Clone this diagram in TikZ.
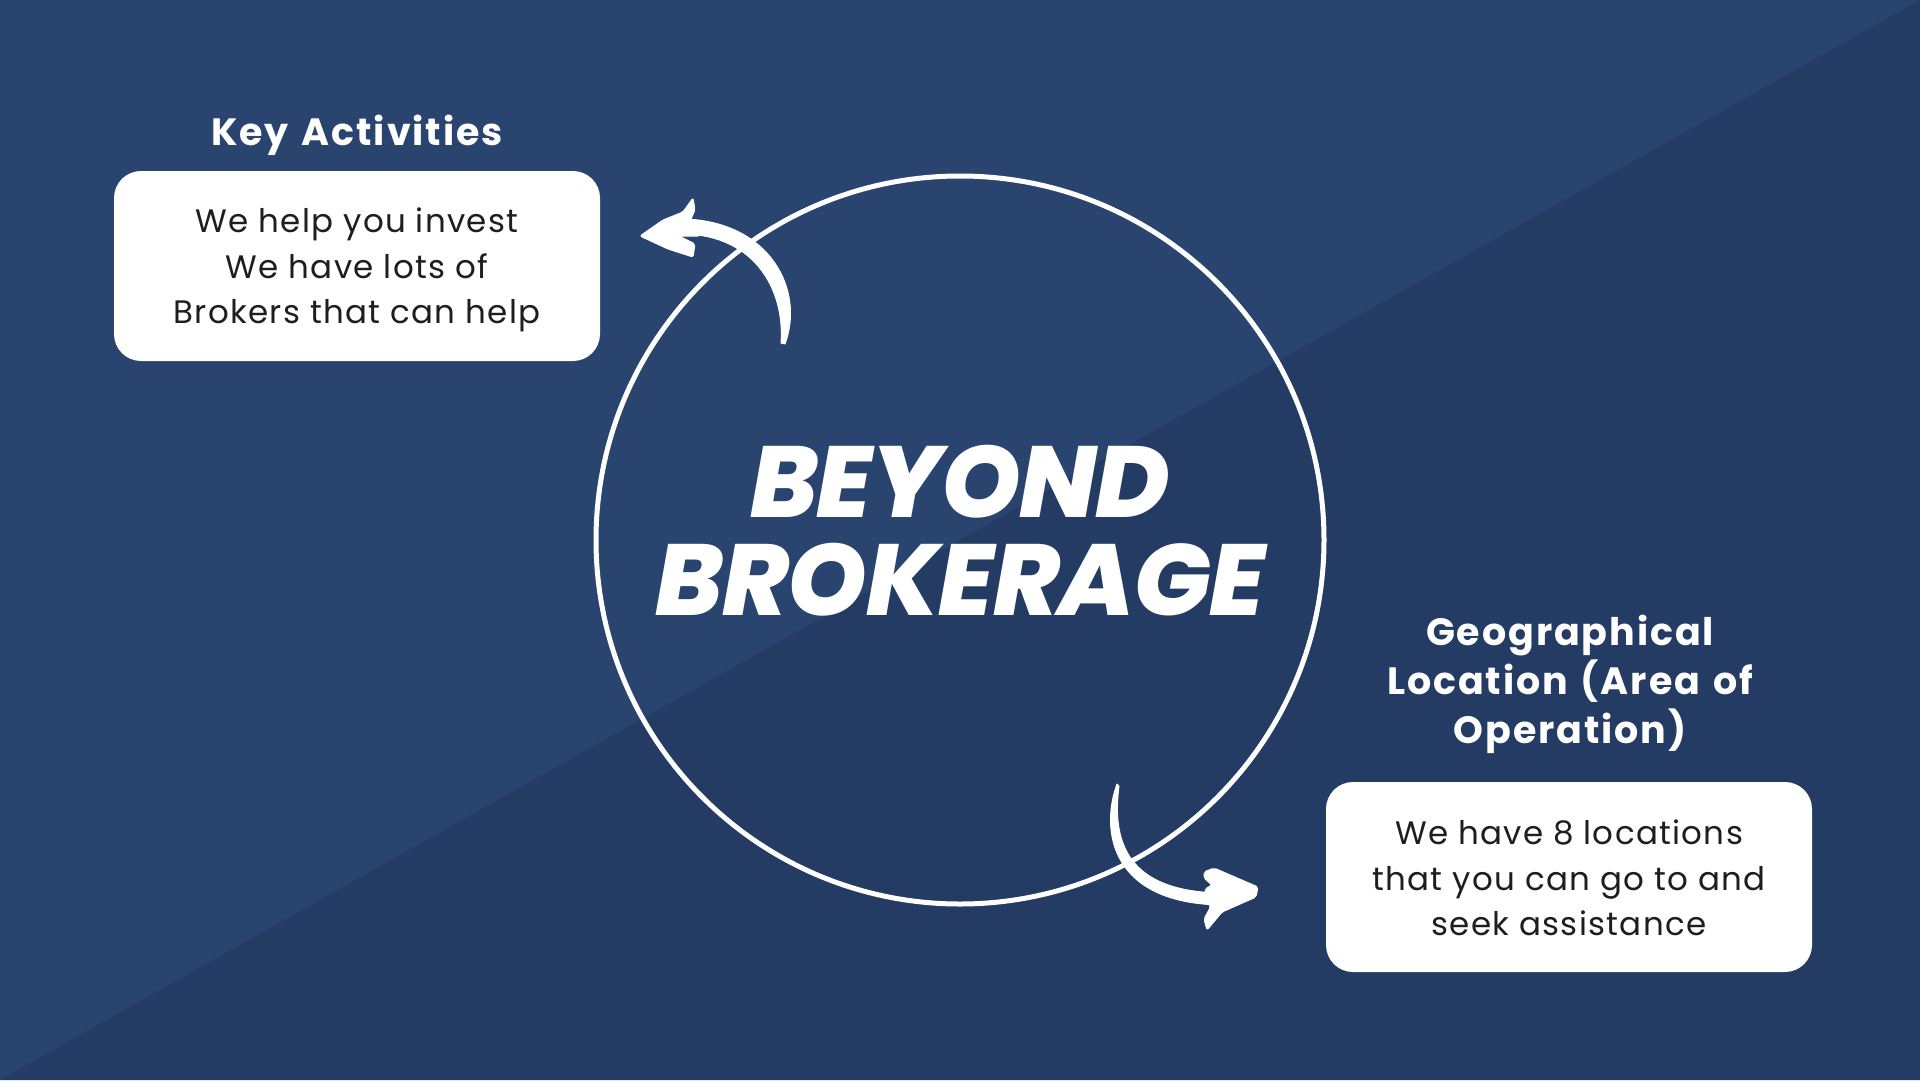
\documentclass[tikz,border=0pt]{standalone}
\usepackage{fontspec}
\newfontfamily\bodyfont[LetterSpace=4]{Poppins}
\IfFontExistsTF{Poppins ExtraBold Italic}
  {\newfontfamily\heavyfontbase[LetterSpace=-1]{Poppins ExtraBold Italic}\newcommand\heavyfont{\heavyfontbase}}
  {\newfontfamily\heavyfontbase[BoldItalicFeatures={FakeBold=2}]{Poppins}\newcommand\heavyfont{\heavyfontbase\bfseries\itshape}}
\IfFontExistsTF{Poppins Bold}
  {\newfontfamily\titlefontbase[LetterSpace=5,WordSpace=1.3]{Poppins Bold}\newcommand\titlefont{\titlefontbase}}
  {\newfontfamily\titlefontbase[LetterSpace=5,WordSpace=1.3]{Poppins}\newcommand\titlefont{\titlefontbase\bfseries}}
\definecolor{bgA}{HTML}{2A4470}
\definecolor{bgB}{HTML}{243B64}
\definecolor{ink}{HTML}{1E1E1E}
\tikzset{
  box/.style={fill=white, rounded corners=27pt, minimum width=486pt, minimum height=190pt, inner sep=0pt},
  boxtext/.style={align=center, text=ink, inner sep=0pt, font=\bodyfont\fontsize{32.5}{45.5}\selectfont},
  title/.style={text=white, align=center, inner sep=0pt, anchor=base, font=\titlefont\fontsize{38}{49}\selectfont},
  bigtext/.style={text=white, inner sep=0pt, anchor=base, font=\heavyfont\fontsize{101}{101}\selectfont},
  brush/.style={fill=white, draw=white, line width=1pt, line join=round}
}
\begin{document}
\begin{tikzpicture}[x=1pt,y=-1pt]
\useasboundingbox (0,0) rectangle (1920,1080);
\fill[bgA] (0,0) rectangle (1920,1080);
\fill[bgB] (1920,0) -- (1920,1080) -- (0,1080) -- cycle;

% circle
\node[draw=white, line width=5pt, circle, minimum size=728pt, inner sep=0pt] (ring) at (960,540) {};

% central text
\node[bigtext] (l1) at (960,517) {BEYOND};
\node[bigtext] (l2) at (960,615) {BROKERAGE};

% left title + box
\node[title] (t1) at (357,145) {Key Activities};
\node[box] (b1) at (357,266) {};
\node[boxtext] (b1t) at (357,270) {We help you invest\\We have lots of\\Brokers that can help};

% right title + box
\node[title] (t2) at (1570,743) {Geographical\\Location (Area of\\Operation)};
\node[box] (b2) at (1569,877) {};
\node[boxtext] (b2t) at (1569,878) {We have 8 locations\\that you can go to and\\seek assistance};

% left curved brush arrow
\fill[brush] (785,344) .. controls (805,290) and (770,222) .. (685,219)
  -- (685,234) .. controls (755,236) and (785,290) .. (781,343) -- cycle;
\fill[brush, rounded corners=2pt] (640,236) -- (663,220) -- (683,212) -- (693,198) -- (695,210) -- (690,221)
  -- (700,223) -- (700,236) -- (679,236) -- (695,244) -- (693,257) -- (668,249) -- cycle;

% right curved brush arrow
\fill[brush] (1117,784) .. controls (1100,830) and (1110,905) .. (1225,905)
  -- (1225,893) .. controls (1125,893) and (1112,840) .. (1119,786) -- cycle;
\fill[brush, rounded corners=2pt] (1204,872) -- (1214,868) -- (1258,887) -- (1256,897) -- (1222,912)
  -- (1207,930) -- (1204,919) -- (1211,906) -- (1205,902) -- (1205,889) -- (1212,885) -- (1204,878) -- cycle;
\end{tikzpicture}
\end{document}
